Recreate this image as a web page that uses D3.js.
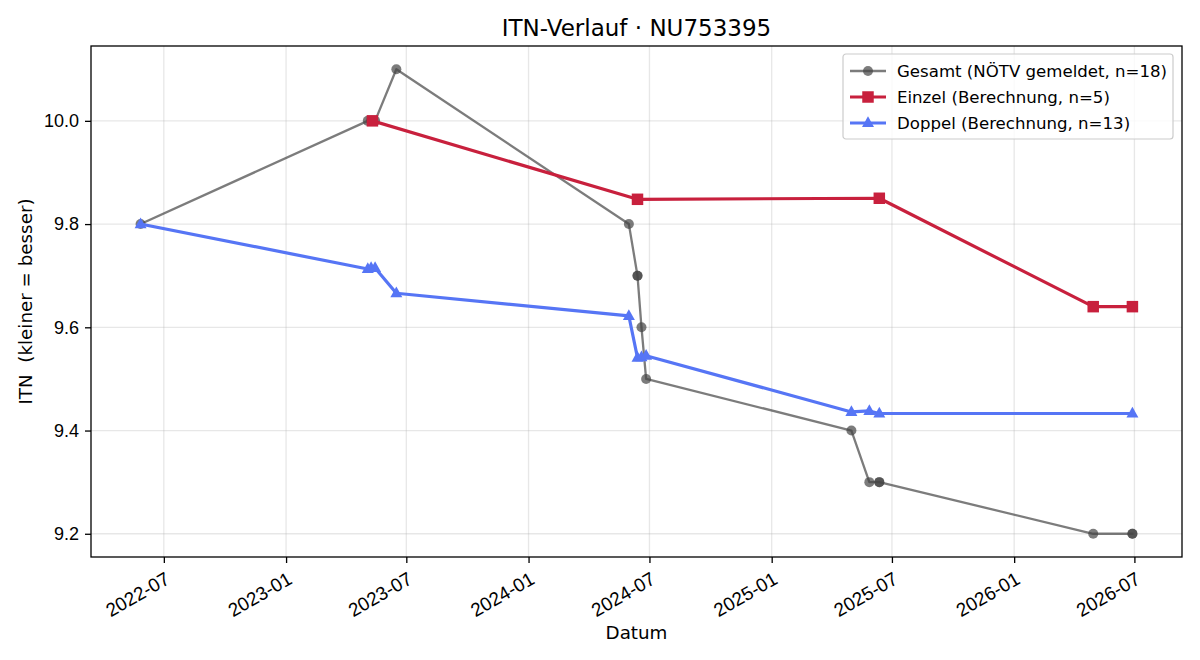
<!DOCTYPE html>
<html>
<head>
<meta charset="utf-8">
<script src="https://cdn.jsdelivr.net/npm/d3@7"></script>
<style>
  html, body { margin: 0; padding: 0; background: #fff; }
  svg { display: block; font-family: "DejaVu Sans", sans-serif; }
</style>
</head>
<body>
<svg id="chart" width="1200" height="660"></svg>
<script>
// ---- data ----
const gesamtDates = ["2022-05-27","2023-05-04","2023-05-09","2023-05-11","2023-05-15","2023-06-16","2024-05-31","2024-06-13","2024-06-13","2024-06-19","2024-06-26","2025-05-01","2025-05-28","2025-06-12","2025-06-12","2026-04-30","2026-06-28","2026-06-28"];
const gesamtValues = [9.8, 10.0, 10.0, 10.0, 10.0, 10.1, 9.8, 9.7, 9.7, 9.6, 9.5, 9.4, 9.3, 9.3, 9.3, 9.2, 9.2, 9.2];

const einzelDates = ["2023-05-11","2024-06-13","2025-06-12","2026-04-30","2026-06-28"];
const einzelValues = [10.0, 9.848, 9.850, 9.640, 9.640];

const doppelDates = ["2022-05-27","2023-05-04","2023-05-09","2023-05-15","2023-06-16","2024-05-31","2024-06-13","2024-06-19","2024-06-26","2025-05-01","2025-05-28","2025-06-12","2026-06-28"];
const doppelValues = [9.800, 9.713, 9.715, 9.715, 9.666, 9.622, 9.541, 9.542, 9.545, 9.436, 9.438, 9.433, 9.433];

const yTicks = [9.2, 9.4, 9.6, 9.8, 10.0];
const seriesLabels = ["Gesamt (NÖTV gemeldet, n=18)", "Einzel (Berechnung, n=5)", "Doppel (Berechnung, n=13)"];
const titleText = "ITN-Verlauf · NU753395";
const xLabel = "Datum";
const yLabel = "ITN  (kleiner = besser)";

// ---- layout ----
const W = 1200, H = 660;
const m = { left: 91, right: 18, top: 46, bottom: 103 };
const pw = W - m.left - m.right, ph = H - m.top - m.bottom;

const parse = d3.timeParse("%Y-%m-%d");
const toPts = (ds, vs) => ds.map((d, i) => ({ date: parse(d), value: vs[i] }));
const gesamt = toPts(gesamtDates, gesamtValues);
const einzel = toPts(einzelDates, einzelValues);
const doppel = toPts(doppelDates, doppelValues);
const all = gesamt.concat(einzel, doppel);

const xExt = d3.extent(all, d => +d.date);
const xPad = (xExt[1] - xExt[0]) * 0.05;
const yExt = d3.extent(all, d => d.value);
const yPad = (yExt[1] - yExt[0]) * 0.05;

const x = d3.scaleTime().domain([new Date(xExt[0] - xPad), new Date(xExt[1] + xPad)]).range([0, pw]);
const y = d3.scaleLinear().domain([yExt[0] - yPad, yExt[1] + yPad]).range([ph, 0]);

const svg = d3.select("#chart");
const g = svg.append("g").attr("transform", `translate(${m.left},${m.top})`);

// grid
const xTickVals = x.ticks(d3.timeMonth.every(6)).filter(d => d.getMonth() === 0 || d.getMonth() === 6);
g.append("g").selectAll("line").data(xTickVals).join("line")
  .attr("x1", d => x(d)).attr("x2", d => x(d)).attr("y1", 0).attr("y2", ph)
  .attr("stroke", "#b0b0b0").attr("stroke-opacity", 0.3).attr("stroke-width", 1.3);
g.append("g").selectAll("line").data(yTicks).join("line")
  .attr("x1", 0).attr("x2", pw).attr("y1", d => y(d)).attr("y2", d => y(d))
  .attr("stroke", "#b0b0b0").attr("stroke-opacity", 0.3).attr("stroke-width", 1.3);

// axes
const tickFont = 18;
const xTickFont = 19;
const xAxis = g.append("g").attr("transform", `translate(0,${ph})`)
  .call(d3.axisBottom(x).tickValues(xTickVals).tickFormat(d3.timeFormat("%Y-%m")).tickSizeOuter(0).tickSize(6).tickPadding(8));
xAxis.select(".domain").remove();
xAxis.selectAll("line").attr("stroke", "#000").attr("stroke-width", 1.3);
xAxis.selectAll("text")
  .attr("font-size", xTickFont).attr("fill", "#000")
  .attr("text-anchor", "end").attr("dy", "0.71em")
  .attr("transform", function() {
    const yy = +d3.select(this).attr("y");
    return `translate(0,${yy}) rotate(-30) translate(0,${-yy})`;
  });

const yAxis = g.append("g")
  .call(d3.axisLeft(y).tickValues(yTicks).tickFormat(d3.format(".1f")).tickSizeOuter(0).tickSize(6).tickPadding(6));
yAxis.select(".domain").remove();
yAxis.selectAll("line").attr("stroke", "#000").attr("stroke-width", 1.3);
yAxis.selectAll("text").attr("font-size", tickFont).attr("fill", "#000");

// frame
g.append("rect").attr("x", 0).attr("y", 0).attr("width", pw).attr("height", ph)
  .attr("fill", "none").attr("stroke", "#000").attr("stroke-width", 1.3);

// series
const line = d3.line().x(d => x(d.date)).y(d => y(d.value));
const styles = [
  { data: gesamt, color: "#444444", op: 0.7, lw: 2.3, marker: "circle", size: 10 },
  { data: einzel, color: "#c8203d", op: 1, lw: 3.2, marker: "square", size: 11.5 },
  { data: doppel, color: "#5675f5", op: 1, lw: 3.2, marker: "triangle", size: 12 }
];

function markerPath(type, s) {
  if (type === "circle") return d3.symbol(d3.symbolCircle, Math.PI * (s / 2) * (s / 2))();
  if (type === "square") return `M${-s/2},${-s/2}H${s/2}V${s/2}H${-s/2}Z`;
  const h = s * 0.9;
  return `M0,${-h*0.62}L${s/2},${h*0.38}L${-s/2},${h*0.38}Z`;
}

styles.forEach(st => {
  const sg = g.append("g");
  sg.append("path").datum(st.data).attr("d", line)
    .attr("fill", "none").attr("stroke", st.color).attr("stroke-opacity", st.op)
    .attr("stroke-width", st.lw).attr("stroke-linejoin", "round").attr("stroke-linecap", "square");
  sg.selectAll("path.mk").data(st.data).join("path").attr("class", "mk")
    .attr("d", markerPath(st.marker, st.size))
    .attr("transform", d => `translate(${x(d.date)},${y(d.value)})`)
    .attr("fill", st.color).attr("fill-opacity", st.op);
});

// legend
const lg = g.append("g").attr("transform", `translate(${pw - 339},8)`);
lg.append("rect").attr("x", 0).attr("y", 0).attr("width", 330).attr("height", 85).attr("rx", 3)
  .attr("fill", "#fff").attr("fill-opacity", 0.8).attr("stroke", "#cccccc").attr("stroke-width", 1.2);
styles.forEach((st, i) => {
  const yy = 17 + i * 26;
  lg.append("line").attr("x1", 7).attr("x2", 43).attr("y1", yy).attr("y2", yy)
    .attr("stroke", st.color).attr("stroke-opacity", st.op).attr("stroke-width", st.lw);
  lg.append("path").attr("d", markerPath(st.marker, st.size))
    .attr("transform", `translate(25,${yy})`).attr("fill", st.color).attr("fill-opacity", st.op);
  lg.append("text").attr("x", 54).attr("y", yy).attr("dy", "0.35em")
    .attr("font-size", 16.6).attr("fill", "#000").text(seriesLabels[i]);
});

// titles
svg.append("text").attr("x", m.left + pw / 2).attr("y", 36).attr("text-anchor", "middle")
  .attr("font-size", 23).attr("fill", "#000").text(titleText);
svg.append("text").attr("x", m.left + pw / 2).attr("y", 639).attr("text-anchor", "middle")
  .attr("font-size", 18.3).attr("fill", "#000").text(xLabel);
svg.append("text").attr("transform", `translate(32,${m.top + ph / 2}) rotate(-90)`).attr("text-anchor", "middle")
  .attr("font-size", 18.3).attr("fill", "#000").style("white-space", "pre").text(yLabel);
</script>
</body>
</html>
